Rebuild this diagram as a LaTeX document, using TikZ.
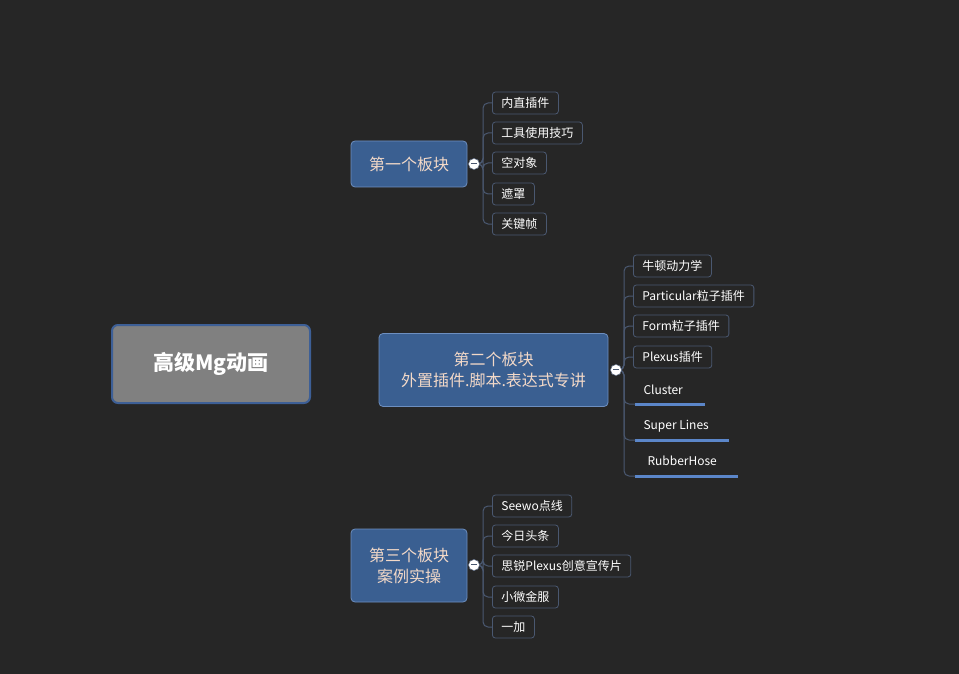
\documentclass[tikz,border=0pt]{standalone}
\usepackage{fontspec}
\setmainfont{Noto Sans CJK SC}
\usetikzlibrary{positioning}
\definecolor{bg}{HTML}{262626}
\definecolor{rootfill}{HTML}{808080}
\definecolor{rootline}{HTML}{3D5F96}
\definecolor{blockfill}{HTML}{3A5F91}
\definecolor{blockline}{HTML}{6D8FC0}
\definecolor{blocktext}{HTML}{F3D9C8}
\definecolor{leafline}{HTML}{4A5870}
\definecolor{uline}{HTML}{5B86C9}
\tikzset{
  rootbox/.style={draw=rootline,line width=2pt,fill=rootfill,rounded corners=6pt,minimum width=198pt,minimum height=78pt,text=white,font=\fontsize{21}{24}\selectfont\bfseries},
  blockbox/.style={draw=blockline,line width=0.8pt,fill=blockfill,rounded corners=4pt,text=blocktext,align=center,font=\fontsize{16}{21}\selectfont},
  leafbox/.style={draw=leafline,line width=0.8pt,fill=bg,rounded corners=3pt,text=white,anchor=west,minimum height=22pt,inner xsep=9pt,font=\fontsize{12}{14}\selectfont},
  leaftext/.style={text=white,anchor=west,font=\fontsize{12}{14}\selectfont},
  knob/.style={circle,fill=white,draw=leafline,minimum size=11pt,inner sep=0pt},
  branch/.style={draw=leafline,line width=1pt,rounded corners=5pt}
}
\begin{document}
\begin{tikzpicture}[x=1pt,y=-1pt]
\fill[bg] (0,0) rectangle (959,674);
\useasboundingbox (0,0) rectangle (959,674);
% root
\node[rootbox] (root) at (211,364) {高级Mg动画};
% first block
\node[blockbox,minimum width=116pt,minimum height=46pt] (b1) at (409,164) {第一个板块};
\node[knob] (k1) at (474,164) {};
\node[leafbox] (l11) at (492,103) {内直插件};
\node[leafbox] (l12) at (492,133) {工具使用技巧};
\node[leafbox] (l13) at (492,163) {空对象};
\node[leafbox] (l14) at (492,194) {遮罩};
\node[leafbox] (l15) at (492,224) {关键帧};
\foreach \n in {l11,l12,l13,l14,l15}
  \draw[branch] (k1.east) -- (483,164) |- (\n.west);
% second block
\node[blockbox,minimum width=229pt,minimum height=73pt] (b2) at (493.5,370) {第二个板块\\外置插件.脚本.表达式专讲};
\node[knob] (k2) at (616,370) {};
\node[leafbox] (l21) at (633,266) {牛顿动力学};
\node[leafbox] (l22) at (633,296) {Particular粒子插件};
\node[leafbox] (l23) at (633,326) {Form粒子插件};
\node[leafbox] (l24) at (633,357) {Plexus插件};
\coordinate (u1) at (635,404);
\coordinate (u2) at (635,440);
\coordinate (u3) at (635,476);
\node[leaftext] (l25) at (640,390) {Cluster};
\node[leaftext] (l26) at (640,426) {Super Lines};
\node[leaftext] (l27) at (644,461) {RubberHose};
\draw[uline,line width=3pt] (u1) -- (705,404);
\draw[uline,line width=3pt] (u2) -- (729,440);
\draw[uline,line width=3pt] (u3) -- (738,476);
\foreach \n in {l21,l22,l23,l24}
  \draw[branch] (k2.east) -- (624,370) |- (\n.west);
\foreach \n in {u1,u2,u3}
  \draw[branch] (k2.east) -- (624,370) |- (\n);
% third block
\node[blockbox,minimum width=116pt,minimum height=73pt] (b3) at (409,565.5) {第三个板块\\案例实操};
\node[knob] (k3) at (474,565) {};
\node[leafbox] (l31) at (492,506) {Seewo点线};
\node[leafbox] (l32) at (492,536) {今日头条};
\node[leafbox] (l33) at (492,566) {思锐Plexus创意宣传片};
\node[leafbox] (l34) at (492,597) {小微金服};
\node[leafbox] (l35) at (492,627) {一加};
\foreach \n in {l31,l32,l33,l34,l35}
  \draw[branch] (k3.east) -- (483,565) |- (\n.west);
\foreach \k in {k1,k2,k3}
  \node[knob] at (\k) {};
\foreach \k in {k1,k2,k3}
  \fill[leafline] ([xshift=-3pt]\k.center) rectangle ([xshift=3pt,yshift=1pt]\k.center);
\end{tikzpicture}
\end{document}
